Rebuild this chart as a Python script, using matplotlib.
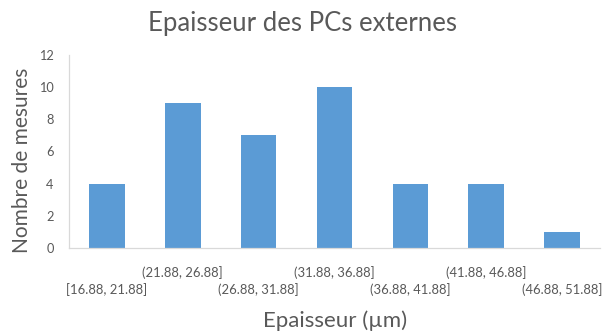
import matplotlib.pyplot as plt
import numpy as np

# Histogram data: class intervals and counts
intervals = ["[16.88, 21.88]", "(21.88, 26.88]", "(26.88, 31.88]", "(31.88, 36.88]",
             "(36.88, 41.88]", "(41.88, 46.88]", "(46.88, 51.88]"]
counts = [4, 9, 7, 10, 4, 4, 1]
yticks = [0, 2, 4, 6, 8, 10, 12]

plt.rcParams['font.family'] = ['Lato', 'DejaVu Sans']
text_color = '#595959'
axis_color = '#D9D9D9'

fig = plt.figure(figsize=(6.04, 3.34), dpi=100)
ax = fig.add_axes([69 / 604, 86 / 334, 531 / 604, 193 / 334])

x = np.arange(len(counts))
ax.bar(x, counts, width=0.47, color='#5B9BD5')

ax.set_xlim(-0.5, len(counts) - 0.5)
ax.set_ylim(0, 12)
ax.set_yticks(yticks)
ax.set_yticklabels([str(t) for t in yticks], fontsize=9.2, color=text_color)
ax.tick_params(axis='y', length=0, pad=11)

# Staggered category labels, two rows
ax.set_xticks(x)
ax.set_xticklabels([])
ax.tick_params(axis='x', length=0)
for i, lab in enumerate(intervals):
    y = -0.095 if i % 2 else -0.18
    ax.text(i, y, lab, transform=ax.get_xaxis_transform(), ha='center', va='top',
            fontsize=9.4, color=text_color)

for side in ['top', 'right']:
    ax.spines[side].set_visible(False)
for side in ['left', 'bottom']:
    ax.spines[side].set_color(axis_color)
    ax.spines[side].set_linewidth(0.9)

fig.text(0.5, 0.93, "Epaisseur des PCs externes", ha='center', va='center',
         fontsize=18.5, color=text_color)
fig.text(0.036, 0.52, "Nombre de mesures", ha='center', va='center',
         rotation=90, fontsize=15, color=text_color)
fig.text(0.555, 0.04, "Epaisseur (µm)", ha='center', va='center',
         fontsize=16, color=text_color)

fig.savefig("out.png", dpi=100)
